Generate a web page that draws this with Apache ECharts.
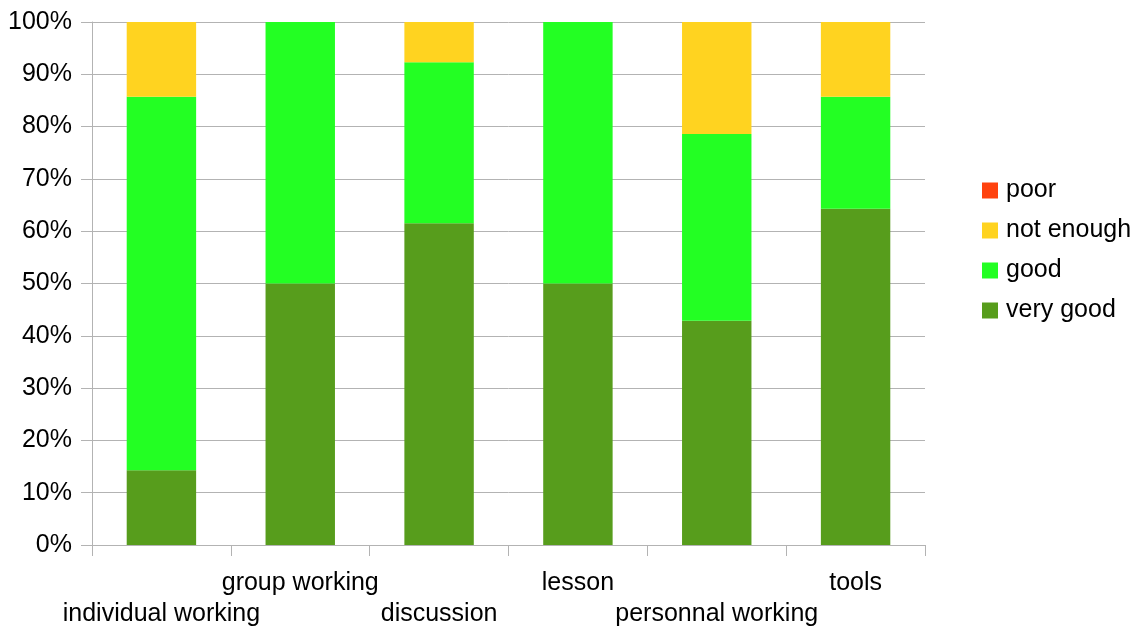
<!DOCTYPE html>
<html><head><meta charset="utf-8">
<script src="https://cdn.jsdelivr.net/npm/echarts@6/dist/echarts.min.js"></script>
<style>html,body{margin:0;padding:0;background:#fff}#c{width:1147px;height:630px}</style>
</head><body><div id="c"></div>
<script>
const categories = ['individual working','group working','discussion','lesson','personnal working','tools'];
const veryGood = [14.29, 50, 61.54, 50, 42.86, 64.29];
const good = [71.43, 50, 30.77, 50, 35.71, 21.43];
const notEnough = [14.28, 0, 7.69, 0, 21.43, 14.28];
const poor = [0, 0, 0, 0, 0, 0];
const yTicks = ['0%','10%','20%','30%','40%','50%','60%','70%','80%','90%','100%'];

const font = 'Liberation Sans, Arial, sans-serif';
const chart = echarts.init(document.getElementById('c'), null, {renderer:'canvas'});
const mk = (name, data, color) => ({name, type:'bar', stack:'s', data, barWidth:'50%',
  itemStyle:{color}, emphasis:{disabled:true}});
chart.setOption({
  animation:false,
  backgroundColor:'#fff',
  grid:{left:92, right:222, top:22, bottom:84, containLabel:false},
  legend:{orient:'vertical', left:982, top:178, padding:0, itemWidth:16, itemHeight:16, itemGap:15,
    icon:'rect', data:['poor','not enough','good','very good'],
    textStyle:{fontFamily:font, fontSize:25, color:'#000', lineHeight:25, padding:[0,0,0,3]}},
  xAxis:{type:'category', data:categories,
    axisLine:{lineStyle:{color:'#b3b3b3', width:1}},
    axisTick:{show:true, length:11, lineStyle:{color:'#b3b3b3'}},
    axisLabel:{interval:0, margin:23, fontFamily:font, fontSize:25, color:'#000', lineHeight:31,
      formatter:(v,i)=> i%2===0 ? '\n'+v : v+'\n'}},
  yAxis:{type:'value', min:0, max:100, interval:10,
    axisLine:{show:true, lineStyle:{color:'#b3b3b3', width:1}},
    axisTick:{show:true, length:11, lineStyle:{color:'#b3b3b3'}},
    splitLine:{lineStyle:{color:'#b3b3b3', width:1}},
    axisLabel:{margin:20, fontFamily:font, fontSize:25, color:'#000',
      formatter:(v)=> yTicks[Math.round(v/10)]}},
  series:[
    mk('very good', veryGood, '#579d1c'),
    mk('good', good, '#23ff23'),
    mk('not enough', notEnough, '#ffd320'),
    mk('poor', poor, '#ff420e')
  ]
});
</script></body></html>
